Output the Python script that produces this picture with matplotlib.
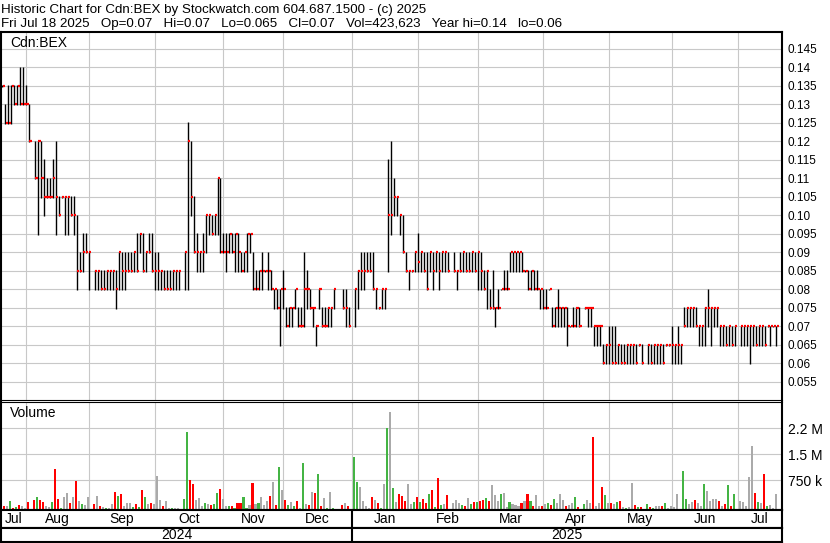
import numpy as np
import matplotlib
matplotlib.use('Agg')
import matplotlib.pyplot as plt

plt.rcParams['font.family'] = ['Liberation Sans', 'DejaVu Sans']

W, H = 830, 543

#%% Data (one slot per weekday, Jul 22 2024 .. Jul 18 2025, prices in cents, None = no trade)
#-------------------------------------------------
high = [13.5, 13, 13.5, 13.5, 13.5, 13.5, 14, 14, 13.5, 13,
        None, 12, 12, 12, 11.5, 11, 11, 11.5, 12, 10.5,
        10.5, 10.5, 10.5, 10.5, 10.5, 10, 9, 9.5, 9.5, 9,
        None, 8.5, 8.5, 8.5, 8.5, 8.5, 8.5, 8.5, 8.5, 9,
        9, 9, 9, 9, 9, 9.5, 9.5, 9.5, 9, 9.5,
        9.5, 9, 9, 8.5, 8.5, 8.5, 8.5, 8.5, 8.5, 8.5,
        None, 9, 12.5, 12, 10.5, 9.5, 9, 9.5, 10, 10,
        10, 10, 11, 11, 9.5, 9.5, 9.5, 9.5, 9.5, 9.5,
        9, 9, 9.5, 9.5, 9, 8.5, 8.5, 9, 8.5, 9,
        8.5, 8, 8, 8, 8.5, 7.5, 7.5, 7.5, 8, 7.5,
        7.5, 9, 8.5, 8, 7.5, 7, 8, 7.5, 7.5, 7.5,
        7.5, 8, None, None, 8, 8, 7.5, None, 8, 8.5,
        9, 9, 9, 9, 9, 8, 7.5, 8, 8, 11.5,
        12, 11, 10.5, 10, 10, 9, 8.5, 8.5, 9, 9.5,
        9, 9, 9, 9, 9, 9, 9, 9, 9, 9,
        None, 9, 8.5, 9, 9, 9, 9, 9, 9, 9,
        9, 8.5, 8.5, 8, 8.5, 7.5, 8, 8, 8.5, 8.5,
        9, 9, 9, 9, 9, 8.5, 8.5, 8.5, 8.5, 8.5,
        8, 8, 8, 8, 7.5, 7.5, 8, 7.5, 7.5, 7.5,
        7, 7.5, 7.5, 7.5, None, 7.5, 7.5, 7.5, 7, 7,
        7, 6.5, 6.5, 7, 7, 7, 6.5, 6.5, 6.5, 6.5,
        6.5, 6.5, 6.5, 6.5, 6.5, None, 6.5, 6.5, 6.5, 6.5,
        6.5, 6.5, 6.5, 6.5, 7, 6.5, 7, 6.5, 7.5, 7.5,
        7.5, 7.5, 7.5, 7, 7, 7.5, 8, 7.5, 7.5, 7.5,
        7, 7, 7, 7, 7, 7, None, 7, 7, 7,
        7, 7, 7, 7, 7, 7, 7, 7, 7, 7]

low = [13.5, 12.5, 12.5, 12.5, 13, 13, 13, 13, 13, 12,
       None, 11, 9.5, 10.5, 10, 10.5, 10.5, 10.5, 9.5, 10,
       10.5, 9.5, 9.5, 10, 9.5, 8, 8.5, 8.5, 9, 8,
       None, 8, 8, 8, 8, 8, 8, 8, 7.5, 8,
       8, 8, 8.5, 8.5, 8.5, 8.5, 9, 8.5, 8.5, 9,
       8.5, 8, 8, 8, 8, 8, 8, 8, 8, 8,
       None, 8, 8, 10, 9, 8.5, 8.5, 8.5, 9, 9.5,
       9.5, 9.5, 9.5, 9, 9, 8.5, 9, 9, 8.5, 8.5,
       8.5, 8.5, 8.5, 9, 8, 8, 8, 8, 8.5, 8,
       8, 7.5, 7.5, 6.5, 7.5, 7, 7, 7, 7.5, 7,
       7, 7, 7.5, 7.5, 7, 6.5, 7.5, 7, 7, 7,
       7, 7.5, None, None, 7.5, 7, 7, None, 7, 7.5,
       8, 8, 8.5, 8.5, 8, 7.5, 7.5, 7.5, 7.5, 8.5,
       9.5, 10, 10, 9.5, 9, 8.5, 8, 8.5, 8.5, 8.5,
       8.5, 8.5, 8, 8.5, 8, 8.5, 8, 8.5, 8.5, 8.5,
       None, 8.5, 8, 8.5, 8.5, 8.5, 8.5, 8.5, 8.5, 8,
       8, 8, 7.5, 7.5, 7.5, 7, 7.5, 8, 8, 8,
       8.5, 8.5, 8.5, 8.5, 8.5, 8.5, 8, 8, 8, 8,
       7.5, 7.5, 7.5, 8, 7, 7, 7, 7, 7, 6.5,
       7, 7, 7, 7, None, 7.5, 7, 7, 6.5, 6.5,
       6.5, 6, 6, 6, 6, 6, 6, 6, 6, 6,
       6, 6, 6, 6.5, 6, None, 6, 6, 6, 6,
       6, 6, 6.5, 6.5, 6, 6, 6, 6, 7, 7,
       7, 7, 7, 6.5, 6.5, 6.5, 7, 6.5, 7, 7,
       6.5, 6.5, 6.5, 6.5, 6.5, 6.5, None, 6.5, 6.5, 6.5,
       6, 6.5, 6.5, 6.5, 6.5, 6.5, 7, 6.5, 7, 6.5]

close = [13.5, 12.5, 12.5, 13.5, 13, 13.5, 13, 13, 13, 12,
         None, 11, 12, 11, 10.5, 10.5, 10.5, 11, 10.5, 10,
         10.5, 10.5, 10.5, 10, 10, 8.5, 8.5, 9, 9, 9,
         None, 8.5, 8.5, 8, 8, 8.5, 8.5, 8.5, 8, 9,
         8.5, 8.5, 8.5, 8.5, 9, 8.5, 9.5, 8.5, 9, 9,
         8.5, 8.5, 8.5, 8.5, 8, 8, 8, 8.5, 8.5, 8.5,
         None, 9, 12, 10.5, 9, 9, 9, 9, 10, 10,
         9.5, 10, 11, 9, 9, 9, 9.5, 9, 9.5, 9,
         8.5, 9, 9.5, 9.5, 8, 8, 8.5, 8.5, 8.5, 8.5,
         8, 8, 7.5, 8, 8, 7, 7.5, 7.5, 8, 7,
         7, 8, 8, 7.5, 7.5, 7, 8, 7, 7, 7.5,
         7.5, 8, None, None, 7.5, 7.5, 7, None, 8, 8.5,
         8.5, 8.5, 8.5, 8.5, 8, 8, 7.5, 8, 8, 10,
         10, 10.5, 10.5, 10, 9, 8.5, 8.5, 8.5, 9, 8.75,
         9, 8.5, 8, 9, 8.5, 9, 8.5, 9, 9, 8.5,
         None, 8.5, 8.5, 8.5, 9, 8.5, 8.5, 9, 8.5, 9,
         8.5, 8, 8.5, 7.5, 7.5, 7.5, 7.5, 8, 8, 8,
         9, 9, 9, 9, 8.5, 8.5, 8, 8.5, 8, 8,
         8, 7.5, 7.5, 8, 7, 7.5, 7.5, 7.5, 7.5, 7,
         7, 7, 7.5, 7, None, 7.5, 7.5, 7.5, 7, 7,
         7, 6, 6.5, 6.5, 6, 6, 6.5, 6, 6, 6.5,
         6.5, 6.5, 6, 6.5, 6, None, 6.5, 6, 6.5, 6.5,
         6.5, 6, 6.5, 6.5, 6.5, 6.5, 6.5, 6.5, 7, 7.5,
         7.5, 7.5, 7, 7, 7, 7.5, 7.5, 7.5, 7.5, 7.5,
         7, 7, 6.5, 7, 6.5, 7, None, 7, 7, 7,
         7, 7, 6.5, 7, 7, 6.5, 7, 7, 7, 7]

# volume in thousands of shares
volume = [120, 90, 90, 230, 50, 60, 120, 90, 50, 200,
          None, 250, 340, 250, 200, 90, 70, 200, 1100, 280,
          40, 340, 450, 170, 340, 770, 230, 150, 120, 340,
          None, 150, 360, 90, 60, 40, 40, 150, 470, 360,
          420, 90, 170, 170, 60, 150, 60, 530, 340, 150,
          170, 150, 910, 250, 90, 230, 40, 40, 40, 40,
          None, 280, 2110, 800, 690, 250, 310, 90, 170, 150,
          120, 150, 450, 560, 280, 90, 90, 90, 40, 170,
          170, 340, 40, 120, 720, 150, 170, 340, 120, 230,
          360, 750, 120, 1160, 530, 250, 120, 200, 90, 230,
          50, 1270, 150, 120, 470, 450, 970, 90, 310, 40,
          470, 40, None, None, 120, 170, 90, None, 1430, 750,
          610, 230, 90, 40, 340, 250, 170, 30, 690, 2220,
          2660, 580, 200, 420, 360, 230, 690, 150, 200, 340,
          200, 280, 170, 420, 530, 60, 860, 120, 150, 390,
          None, 170, 250, 170, 120, 90, 310, 150, 200, 200,
          230, 250, 310, 230, 660, 390, 230, 420, 450, 60,
          200, 150, 120, 90, 170, 230, 420, 230, 90, 390,
          90, 90, 150, 170, 120, 280, 170, 420, 250, 90,
          120, 170, 340, 60, None, 150, 250, 170, 1980, 90,
          170, 610, 390, 170, 170, 150, 200, 230, 60, 40,
          60, 720, 120, 60, 60, None, 150, 60, 40, 90,
          90, 90, 170, 40, 90, 60, 420, 20, 1050, 280,
          150, 200, 250, 170, 90, 690, 500, 230, 280, 280,
          230, 90, 150, 660, 90, 420, None, 230, 200, 90,
          880, 1730, 450, 200, 170, 970, 90, 120, 40, 424]

month_start = [8, 29, 51, 74, 94, 117, 139, 159, 181, 203, 224, 246]
month_names = ['Jul', 'Aug', 'Sep', 'Oct', 'Nov', 'Dec', 'Jan', 'Feb', 'Mar', 'Apr', 'May', 'Jun', 'Jul']
year_start = 117
year_names = ['2024', '2025']

price_ticks = [5.5, 6, 6.5, 7, 7.5, 8, 8.5, 9, 9.5, 10, 10.5, 11, 11.5, 12, 12.5, 13, 13.5, 14, 14.5]
price_labels = ['0.055', '0.06', '0.065', '0.07', '0.075', '0.08', '0.085', '0.09', '0.095', '0.10',
                '0.105', '0.11', '0.115', '0.12', '0.125', '0.13', '0.135', '0.14', '0.145']
vol_ticks = [788, 1500, 2200]
vol_labels = ['750 k', '1.5 M', '2.2 M']

title1 = 'Historic Chart for Cdn:BEX by Stockwatch.com 604.687.1500 - (c) 2025'
title2 = 'Fri Jul 18 2025   Op=0.07   Hi=0.07   Lo=0.065   Cl=0.07   Vol=423,623   Year hi=0.14   lo=0.06'

#%% Prep
#-------------------------------------------------
hi = np.array(high, dtype=float)
lo = np.array(low, dtype=float)
cl = np.array(close, dtype=float)
vol = np.array(volume, dtype=float)
x = np.arange(len(hi))

GREEN, RED, GRAY = '#44b444', '#ff0000', '#aaaaaa'
GRID = '#c8c8c8'
vcol = []
last = np.nan
for c in cl:
    if np.isnan(c):
        vcol.append('none')
        continue
    if np.isnan(last) or c == last:
        vcol.append(GRAY)
    elif c > last:
        vcol.append(GREEN)
    else:
        vcol.append(RED)
    last = c

X0, X1 = -0.43, 260.85  # slot range covered by the panels

fig = plt.figure(figsize=(W / 100, H / 100), dpi=100, facecolor='w')

def px_ax(x0, y0, x1, y1):
    return fig.add_axes([x0 / W, 1 - y1 / H, (x1 - x0) / W, (y1 - y0) / H])

def frame(ax, lw=1.5):
    for s in ax.spines.values():
        s.set_color('k')
        s.set_linewidth(lw)
    ax.set_xlim(X0, X1)
    ax.set_xticks([])

#%% Price panel
#-------------------------------------------------
axp = px_ax(1, 32, 782, 400)
frame(axp)
axp.spines['bottom'].set_linewidth(0.8)
axp.set_ylim(5.008, 14.954)
axp.set_yticks(price_ticks)
axp.set_yticklabels(price_labels, family=['Liberation Sans Narrow', 'Liberation Sans'], fontsize=8.5)
axp.yaxis.tick_right()
axp.tick_params(axis='y', length=0, pad=4)
axp.grid(True, axis='y', color=GRID, lw=0.8)
for m in month_start:
    axp.axvline(m, color=GRID, lw=0.8, zorder=0)
axp.set_axisbelow(True)
axp.vlines(x, lo - 0.02, hi + 0.02, color='k', lw=1.0, zorder=2)
axp.hlines(cl, x + 0.1, x + 0.8, color=RED, lw=1.6, zorder=3)
axp.text(9 / 781, 1 - 11 / 368, 'Cdn:BEX', transform=axp.transAxes, fontsize=10, va='center', ha='left')

#%% Volume panel
#-------------------------------------------------
axv = px_ax(1, 402, 782, 510)
frame(axv)
axv.spines['top'].set_linewidth(0.8)
axv.set_ylim(-15, 2920)
axv.set_yticks(vol_ticks)
axv.set_yticklabels(vol_labels, fontsize=10)
axv.yaxis.tick_right()
axv.tick_params(axis='y', length=0, pad=4)
axv.grid(True, axis='y', color=GRID, lw=0.8)
for m in month_start:
    axv.axvline(m, color=GRID, lw=0.8, zorder=0)
axv.set_axisbelow(True)
axv.bar(x - 0.3, np.nan_to_num(vol), width=0.7, color=vcol, zorder=2, antialiased=False)
axv.text(9 / 781, 1 - 11 / 108, 'Volume', transform=axv.transAxes, fontsize=10, va='center', ha='left')

#%% Month and year rows
#-------------------------------------------------
axm = px_ax(1, 510, 782, 527.5)
frame(axm)
axm.set_yticks([])
axm.set_ylim(0, 1)
edges = [X0] + month_start + [X1]
for i, name in enumerate(month_names):
    axm.text((edges[i] + edges[i + 1]) / 2, 0.5, name, ha='center', va='center', fontsize=10)
axm.axvline(year_start, color='k', lw=1.5)

axy = px_ax(1, 527.5, 782, 541.5)
frame(axy)
axy.set_yticks([])
axy.set_ylim(0, 1)
yedges = [X0, year_start, X1]
for i, name in enumerate(year_names):
    axy.text((yedges[i] + yedges[i + 1]) / 2, 0.45, name, ha='center', va='center', fontsize=10)
axy.axvline(year_start, color='k', lw=1.5)

#%% Header
#-------------------------------------------------
fig.text(1 / W, 1 - 12.7 / H, title1, fontsize=9.6, ha='left', va='baseline')
fig.text(1 / W, 1 - 27.3 / H, title2, fontsize=9.6, ha='left', va='baseline')

fig.savefig('out.png', dpi=100, facecolor='w')
